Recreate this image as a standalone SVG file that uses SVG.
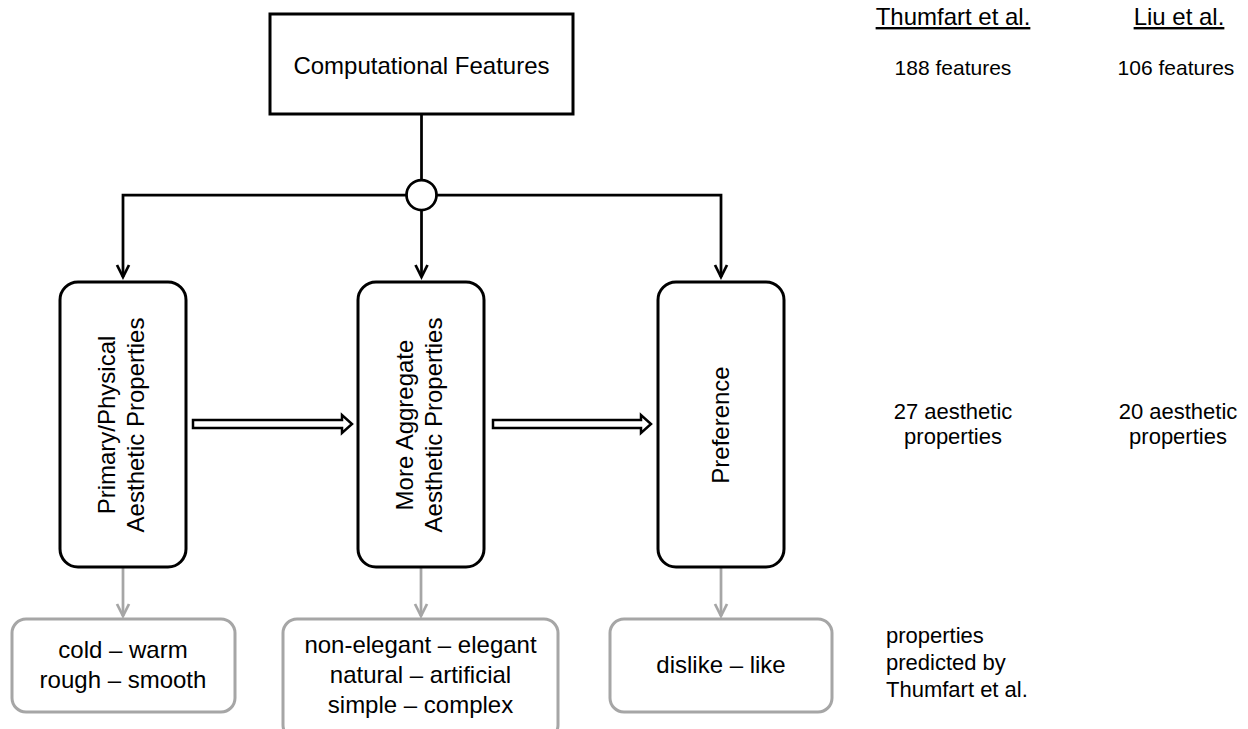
<svg xmlns="http://www.w3.org/2000/svg" width="1248" height="729" viewBox="0 0 1248 729">
<defs>
<marker id="ah" markerUnits="userSpaceOnUse" markerWidth="20" markerHeight="20" viewBox="-16 -10 20 20" refX="0" refY="0" orient="auto"><path d="M-12,-6 L0,0 L-12,6" fill="none" stroke="#000" stroke-width="2.75"/></marker>
<marker id="ahg" markerUnits="userSpaceOnUse" markerWidth="20" markerHeight="20" viewBox="-16 -10 20 20" refX="0" refY="0" orient="auto"><path d="M-12,-6 L0,0 L-12,6" fill="none" stroke="#a6a6a6" stroke-width="2.75"/></marker>
</defs>
<style>
text { font-family: "Liberation Sans", Arial, sans-serif; fill: #000; }
.lbl { font-size: 24px; text-anchor: middle; }
.side { font-size: 22px; text-anchor: middle; }
.blk { fill: #fff; stroke: #000; stroke-width: 3; }
.gry { fill: #fff; stroke: #a6a6a6; stroke-width: 3; }
.c { stroke: #000; stroke-width: 2.75; fill: none; }
.g { stroke: #a6a6a6; stroke-width: 2.75; fill: none; }
.hollow { fill: #fff; stroke: #000; stroke-width: 2.5; stroke-linejoin: miter; }
</style>

<g id="connectors">
  <line class="c" x1="421.5" y1="114" x2="421.5" y2="180"/>
  <path class="c" d="M406.5,195 H123 V277" marker-end="url(#ah)"/>
  <path class="c" d="M436.5,195 H721 V277" marker-end="url(#ah)"/>
  <line class="c" x1="421.5" y1="210" x2="421.5" y2="277" marker-end="url(#ah)"/>
  <circle cx="421.5" cy="195" r="15" fill="#fff" stroke="#000" stroke-width="2.75"/>
  <polygon class="hollow" points="193,420 342,420 342,415 352,424 342,433 342,428 193,428"/>
  <polygon class="hollow" points="493,420 641,420 641,415 651,424 641,433 641,428 493,428"/>
  <line class="g" x1="123" y1="568" x2="123" y2="616" marker-end="url(#ahg)"/>
  <line class="g" x1="421" y1="568" x2="421" y2="616" marker-end="url(#ahg)"/>
  <line class="g" x1="721" y1="568" x2="721" y2="616" marker-end="url(#ahg)"/>
</g>

<g id="computational-features">
  <rect class="blk" x="270" y="14" width="303" height="100"/>
  <text class="lbl" x="421.5" y="74">Computational Features</text>
</g>

<g id="primary-physical">
  <rect class="blk" x="60" y="282" width="126" height="285" rx="18"/>
  <text class="lbl" transform="translate(123,425) rotate(-90)"><tspan x="0" y="-8">Primary/Physical</tspan><tspan x="0" y="21">Aesthetic Properties</tspan></text>
</g>

<g id="more-aggregate">
  <rect class="blk" x="358" y="282" width="126" height="285" rx="18"/>
  <text class="lbl" transform="translate(421,425) rotate(-90)"><tspan x="0" y="-8">More Aggregate</tspan><tspan x="0" y="21">Aesthetic Properties</tspan></text>
</g>

<g id="preference">
  <rect class="blk" x="658" y="282" width="126" height="285" rx="18"/>
  <text class="lbl" transform="translate(721,425) rotate(-90)"><tspan x="0" y="8">Preference</tspan></text>
</g>

<g id="ex-primary">
  <rect class="gry" x="12" y="619" width="223" height="93" rx="14"/>
  <text class="lbl"><tspan x="123" y="658">cold – warm</tspan><tspan x="123" y="688">rough – smooth</tspan></text>
</g>

<g id="ex-aggregate">
  <rect class="gry" x="283" y="619" width="275" height="120" rx="14"/>
  <text class="lbl"><tspan x="420.5" y="653">non-elegant – elegant</tspan><tspan x="420.5" y="683">natural – artificial</tspan><tspan x="420.5" y="713">simple – complex</tspan></text>
</g>

<g id="ex-preference">
  <rect class="gry" x="610" y="619" width="222" height="93" rx="14"/>
  <text class="lbl" x="721" y="673">dislike – like</text>
</g>

<g id="side-notes">
  <text class="side" x="953" y="25" style="font-size:24px" text-decoration="underline">Thumfart et al.</text>
  <text class="side" x="1179" y="25" style="font-size:24px" text-decoration="underline">Liu et al.</text>
  <text class="side" x="953" y="75" style="font-size:21px">188 features</text>
  <text class="side" x="1176" y="75" style="font-size:21px">106 features</text>
  <text class="side"><tspan x="953" y="419">27 aesthetic</tspan><tspan x="953" y="444">properties</tspan></text>
  <text class="side"><tspan x="1178" y="419">20 aesthetic</tspan><tspan x="1178" y="444">properties</tspan></text>
  <text style="font-size:22px"><tspan x="886" y="643">properties</tspan><tspan x="886" y="670">predicted by</tspan><tspan x="886" y="697">Thumfart et al.</tspan></text>
</g>
</svg>
